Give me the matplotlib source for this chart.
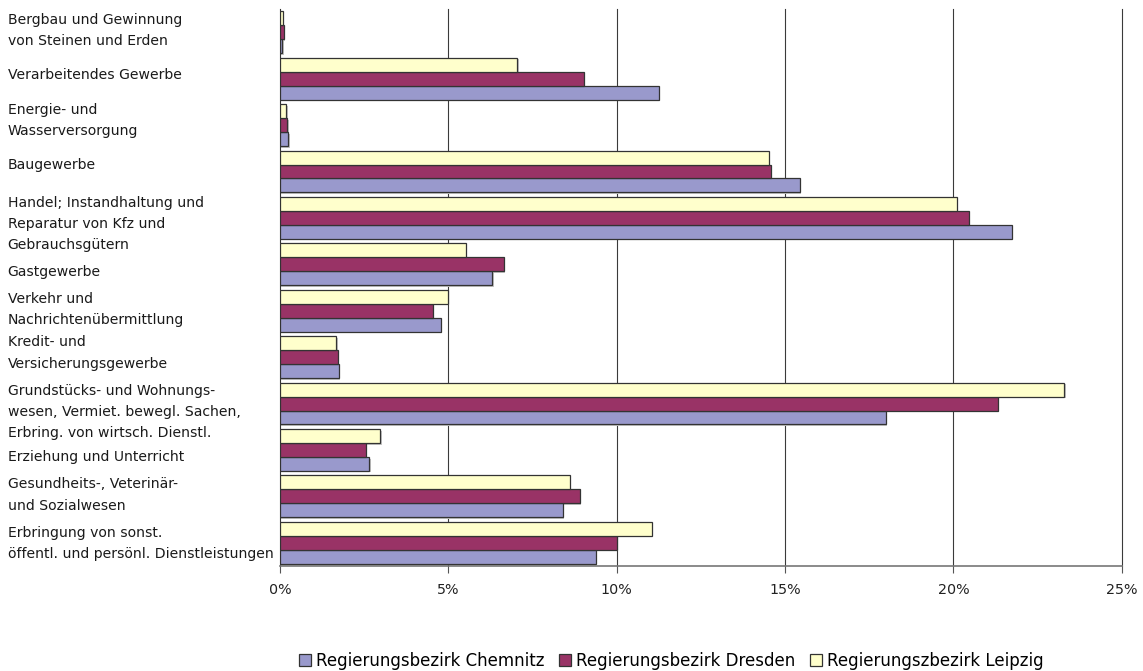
import matplotlib.pyplot as plt
import numpy as np
from matplotlib.patches import Patch

plt.rcParams['font.family'] = ['DejaVu Sans']

categories = [
    "Bergbau und Gewinnung\nvon Steinen und Erden",
    "Verarbeitendes Gewerbe",
    "Energie- und\nWasserversorgung",
    "Baugewerbe",
    "Handel; Instandhaltung und\nReparatur von Kfz und\nGebrauchsgütern",
    "Gastgewerbe",
    "Verkehr und\nNachrichtenübermittlung",
    "Kredit- und\nVersicherungsgewerbe",
    "Grundstücks- und Wohnungs-\nwesen, Vermiet. bewegl. Sachen,\nErbring. von wirtsch. Dienstl.",
    "Erziehung und Unterricht",
    "Gesundheits-, Veterinär-\nund Sozialwesen",
    "Erbringung von sonst.\nöffentl. und persönl. Dienstleistungen",
]

# shares in percent
chemnitz = [0.07, 11.25, 0.25, 15.44, 21.73, 6.30, 4.77, 1.74, 18.00, 2.65, 8.39, 9.38]
dresden = [0.11, 9.03, 0.22, 14.58, 20.46, 6.65, 4.54, 1.71, 21.31, 2.54, 8.90, 10.00]
leipzig = [0.08, 7.05, 0.19, 14.52, 20.10, 5.51, 4.99, 1.67, 23.29, 2.98, 8.61, 11.04]

series = [
    ("Regierungsbezirk Chemnitz", chemnitz, "#9999CC"),
    ("Regierungsbezirk Dresden", dresden, "#993366"),
    ("Regierungszbezirk Leipzig", leipzig, "#FFFFCC"),
]
xticks = [0, 5, 10, 15, 20, 25]

# vertical nudge of each category label (in category units)
label_shift = [-0.03, -0.08, -0.10, -0.14, 0.13, 0.17, -0.03, -0.09, 0.18, 0.16, -0.03, 0.02]

fig = plt.figure(figsize=(11.43, 6.71), dpi=100)
ax = fig.add_axes([0.245, 0.1565, 0.7365, 0.83])

y = np.arange(len(categories))
h = 0.3
offsets = [h, 0, -h]  # Chemnitz at the bottom of each group, Leipzig on top

for (name, vals, col), off in zip(series, offsets):
    vals = np.array(vals)
    # soft drop shadow
    ax.barh(y + off + 0.035, vals + 0.04, height=h, color="#c4c4c4",
            edgecolor="none", zorder=2)
    ax.barh(y + off, vals, height=h, color=col, edgecolor="#333333",
            linewidth=0.9, zorder=3, label=name)

ax.set_xlim(0, 25)
ax.set_ylim(len(categories) - 0.5, -0.5)
ax.set_xticks(xticks)
ax.set_xticklabels([f"{t}%" for t in xticks], fontsize=10.3, color="#222222")
ax.tick_params(axis='x', length=5, width=0.8, color="#555555", pad=7)
ax.set_yticks([])

for t in xticks[1:]:
    ax.axvline(t, color="#3a3a3a", linewidth=0.8, zorder=1, clip_on=False)

for s in ['top', 'right']:
    ax.spines[s].set_visible(False)
ax.spines['left'].set_color("#333333")
ax.spines['bottom'].set_color("#777777")
ax.spines['left'].set_linewidth(0.8)
ax.spines['bottom'].set_linewidth(1.2)

trans = ax.get_yaxis_transform()
for yi, lab, dy in zip(y, categories, label_shift):
    ax.text(-0.2383 / 0.7365, yi + dy, lab, transform=trans,
            ha='left', va='center', fontsize=10.1, color="#1a1a1a",
            linespacing=1.65)

handles = [Patch(facecolor=c, edgecolor="#333333", linewidth=0.9, label=n)
           for n, _, c in series]
fig.legend(handles=handles, loc='center', bbox_to_anchor=(0.5875, 0.015),
           ncol=3, frameon=False, fontsize=12, handlelength=0.7,
           handleheight=0.7, handletextpad=0.3, columnspacing=0.9)

fig.savefig("out.png", dpi=100)
